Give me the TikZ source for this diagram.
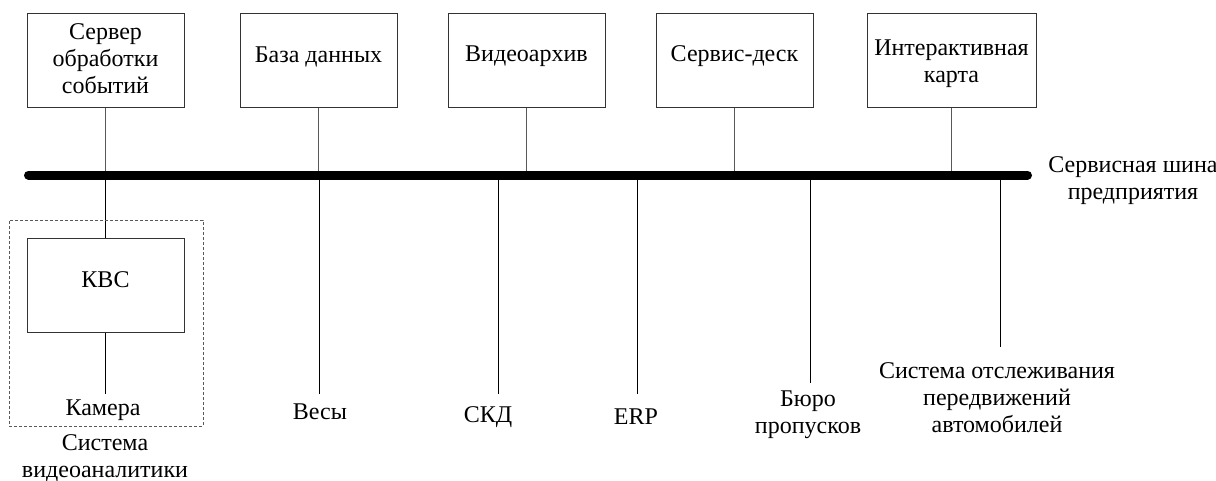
\documentclass[tikz,border=0pt]{standalone}
\usepackage{fontspec}
\setmainfont{Liberation Serif}
\begin{document}
\begin{tikzpicture}[x=1pt,y=-1pt,
  box/.style={draw=black!80, line width=1pt, minimum width=157pt, minimum height=94pt, inner sep=0pt},
  lbl/.style={font=\fontsize{24}{27}\selectfont, align=center, inner sep=0pt},
  conn/.style={line width=1pt, draw=black!65},
  connb/.style={line width=1pt, draw=black},
  bus/.style={line width=9pt, line cap=round, draw=black}]
\useasboundingbox (0,0) rectangle (1216,480);
% top boxes
\node[box] (srv) at (105.5,60) {};
\node[lbl] (srvt) at (105.5,59) {Сервер\\обработки\\событий};
\node[box] (db) at (318.5,60) {};
\node[lbl] (dbt) at (318.5,57) {База данных};
\node[box] (va) at (526.5,60) {};
\node[lbl] (vat) at (526.5,56) {Видеоархив};
\node[box] (sd) at (734.5,60) {};
\node[lbl] (sdt) at (734.5,56) {Сервис-деск};
\node[box, minimum width=169pt] (map) at (951.5,60) {};
\node[lbl] (mapt) at (951.5,64) {Интерактивная\\карта};
% bus
\coordinate (busL) at (28.5,175);
\coordinate (busR) at (1027.5,175);
\draw[conn] (srv.south) -- (srv.south |- busL);
\draw[conn] (db.south) -- (db.south |- busL);
\draw[conn] (va.south) -- (va.south |- busL);
\draw[conn] (sd.south) -- (sd.south |- busL);
\draw[conn] (map.south) -- (map.south |- busL);
% video analytics
\node[box] (kvs) at (105.5,285) {};
\node[lbl] (kvst) at (105.5,280) {КВС};
\coordinate (cam) at (105.5,394);
\draw[connb] (srv.south |- busL) -- (kvs.north);
\draw[connb] (kvs.south) -- (cam);
\node[lbl] (camt) at (103,410) {Камера};
\node[draw=black!65, dash pattern=on 3pt off 2pt, line width=1pt, minimum width=194pt, minimum height=206pt, inner sep=0pt] (vas) at (106,323) {};
\node[lbl] (vast) at (105,458) {Система\\видеоаналитики};
% lower drops
\coordinate (vesy) at (319,394);
\coordinate (skd) at (498,394);
\coordinate (erp) at (637,394);
\coordinate (bp) at (810,383);
\coordinate (auto) at (1000,347);
\draw[connb] (vesy |- busL) -- (vesy);
\draw[connb] (skd |- busL) -- (skd);
\draw[connb] (erp |- busL) -- (erp);
\draw[connb] (bp |- busL) -- (bp);
\draw[connb] (auto |- busL) -- (auto);
\node[lbl] (vesyt) at (320,412) {Весы};
\node[lbl] (skdt) at (488,417) {СКД};
\node[lbl] (erpt) at (636,417) {ERP};
\node[lbl] (bpt) at (808,415) {Бюро\\пропусков};
\node[lbl] (autot) at (997,398) {Система отслеживания\\передвижений\\автомобилей};
% bus on top
\draw[bus] (busL) -- (busR);
\node[lbl] (bust) at (1133,181) {Сервисная шина\\предприятия};
\end{tikzpicture}
\end{document}
